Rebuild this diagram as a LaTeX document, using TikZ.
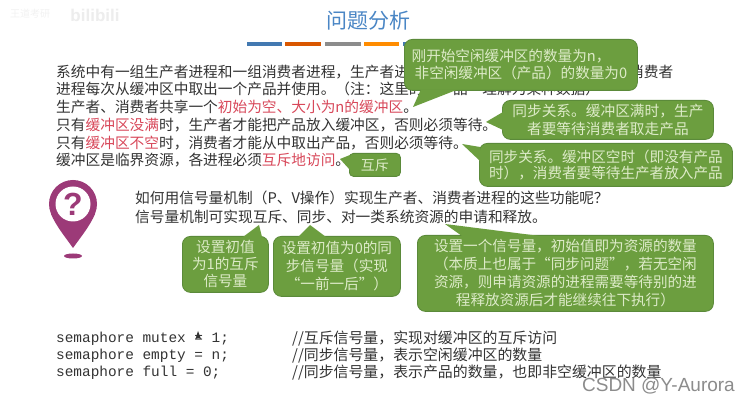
\documentclass[tikz,border=0pt]{standalone}
\usepackage{fontspec}
\setmainfont{Noto Sans CJK SC}
\setmonofont{Liberation Mono}
\newfontfamily\latinsans{Liberation Sans}
\definecolor{bodyink}{HTML}{333333}
\definecolor{keyred}{HTML}{D8485A}
\definecolor{titleblue}{HTML}{4A86C5}
\definecolor{calloutgreen}{HTML}{6C9E3F}
\definecolor{calloutedge}{HTML}{5B8A3A}
\definecolor{callouttext}{HTML}{DDEBC8}
\definecolor{pinmagenta}{HTML}{9C3A78}
\newcommand{\hl}[1]{\textcolor{keyred}{#1}}
\tikzset{
  bodyline/.style={anchor=west,inner sep=0pt,text=bodyink,font=\fontsize{14.7pt}{17pt}\selectfont},
  codeline/.style={anchor=west,inner sep=0pt,text=bodyink,font=\fontsize{14.4pt}{17pt}\ttfamily},
  noteline/.style={anchor=west,inner sep=0pt,text=bodyink,font=\fontsize{14.9pt}{17pt}\selectfont},
  calloutbox/.style={draw=calloutedge,line width=0.8pt,fill=calloutgreen,rounded corners=8pt,
    text=callouttext,align=center,inner sep=0pt,anchor=north west},
  callouttail/.style={fill=calloutgreen,draw=none},
  bar/.style={line width=4pt}
}
\begin{document}
\begin{tikzpicture}[x=1pt,y=-1pt]
\useasboundingbox[fill=white] (0,0) rectangle (745,403);

% watermarks
\node[anchor=center,text=black!7,font=\fontsize{17pt}{18pt}\latinsans\bfseries] (bili) at (95,15) {bilibili};
\node[anchor=center,text=black!5,font=\fontsize{10pt}{11pt}\selectfont] (wm) at (30,14) {王道考研};

% title and colour bars
\node[text=titleblue,font=\fontsize{21pt}{24pt}\selectfont,inner sep=0pt] (title) at (368,21) {问题分析};
\draw[bar,color=titleblue!90!black] (247,44.5) -- (282,44.5);
\draw[bar,color=orange!80!red!85!black] (285,44.5) -- (321,44.5);
\draw[bar,color=black!45] (325,44.5) -- (361,44.5);
\draw[bar,color=orange!90!yellow] (364,44.5) -- (399,44.5);
\draw[bar,color=titleblue!90!black] (403,44.5) -- (438,44.5);

% body
\node[bodyline] (l1) at (56,72) {系统中有一组生产者进程和一组消费者进程，生产者进};
\node[bodyline] (l1b) at (629,72) {消费者};
\node[bodyline] (l2) at (56,89) {进程每次从缓冲区中取出一个产品并使用。（注：这里的“产品”理解为某种数据）};
\node[bodyline] (l3) at (56,107) {生产者、消费者共享一个\hl{初始为空、大小为n的缓冲区}。};
\node[bodyline] (l4) at (56,125) {只有\hl{缓冲区没满}时，生产者才能把产品放入缓冲区，否则必须等待。};
\node[bodyline] (l5) at (56,143) {只有\hl{缓冲区不空}时，消费者才能从中取出产品，否则必须等待。};
\node[bodyline] (l6) at (56,160) {缓冲区是临界资源，各进程必须\hl{互斥地访问}。};

% callouts at the top
\node[calloutbox,align=left,minimum width=233pt,minimum height=51pt,font=\fontsize{14.6pt}{17pt}\selectfont] (c1) at (404,39) {\hspace*{-3pt}刚开始空闲缓冲区的数量为n，\\非空闲缓冲区（产品）的数量为0};
\fill[callouttail] (421,89.4) -- (413,107) -- (458,89.4) -- cycle;

\node[calloutbox,minimum width=211pt,minimum height=39pt,font=\fontsize{14.7pt}{18pt}\selectfont] (c2) at (502,100) {同步关系。缓冲区满时，生产\\者要等待消费者取走产品};
\fill[callouttail] (503,112) -- (486,122) -- (503,130) -- cycle;

\node[calloutbox,minimum width=253pt,minimum height=43pt,font=\fontsize{14.6pt}{16.5pt}\selectfont] (c3) at (479,143) {同步关系。缓冲区空时（即没有产品\\时），消费者要等待生产者放入产品};
\fill[callouttail] (480,147) -- (462,144) -- (480,161) -- cycle;

\node[calloutbox,minimum width=51pt,minimum height=23pt,rounded corners=4pt,font=\fontsize{14pt}{16pt}\selectfont] (c4) at (349,153) {互斥};
\fill[callouttail] (350,155) -- (340,159) -- (350,170) -- cycle;

% location pin icon
\fill[pinmagenta] (51,214) .. controls (56,226) and (66,238) .. (73,248) .. controls (80,238) and (90,226) .. (95,214) -- cycle;
\fill[pinmagenta] (73,204) circle[radius=24];
\fill[white] (73,204) circle[radius=17.5];
\node[text=pinmagenta,font=\fontsize{32pt}{34pt}\latinsans\bfseries,inner sep=0pt] (qmark) at (73,204) {?};
\fill[pinmagenta] (73,256) ellipse[x radius=9,y radius=2.5];

% question
\node[bodyline] (q1) at (135,198) {如何用信号量机制（P、V操作）实现生产者、消费者进程的这些功能呢？};
\node[bodyline] (q2) at (135,217) {信号量机制可实现互斥、同步、对一类系统资源的申请和释放。};

% callouts in the middle
\node[calloutbox,minimum width=86pt,minimum height=56pt,font=\fontsize{14.6pt}{17pt}\selectfont] (c5) at (182,236) {设置初值\\为1的互斥\\信号量};
\fill[callouttail] (243,237) -- (259,225) -- (262,237) -- cycle;

\node[calloutbox,minimum width=127pt,minimum height=60pt,font=\fontsize{14.6pt}{18pt}\selectfont] (c6) at (273,236) {设置初值为0的同\\步信号量（实现\\“一前一后”）};
\fill[callouttail] (298,237) -- (310,225) -- (326,237) -- cycle;

\node[calloutbox,minimum width=296pt,minimum height=76pt,font=\fontsize{14.6pt}{18pt}\selectfont] (c7) at (417,235) {设置一个信号量，初始值即为资源的数量\\（本质上也属于“同步问题”，若无空闲\\资源，则申请资源的进程需要等待别的进\\程释放资源后才能继续往下执行）};
\fill[callouttail] (462,236) -- (445,224) -- (540,236) -- cycle;

% code
\node[codeline] (s1) at (56,339) {semaphore mutex = 1;};
\node[codeline] (s2) at (56,356) {semaphore empty = n;};
\node[codeline] (s3) at (56,373) {semaphore full = 0;};
\node[noteline] (n1) at (292,339) {//互斥信号量，实现对缓冲区的互斥访问};
\node[noteline] (n2) at (292,356) {//同步信号量，表示空闲缓冲区的数量};
\node[noteline] (n3) at (292,373) {//同步信号量，表示产品的数量，也即非空缓冲区的数量};

% mouse cursor
\fill[black!80] (198,331) -- (201,339) -- (198.5,338) -- (195.5,339) -- cycle;

\node[anchor=east,text=black!45,font=\fontsize{19pt}{20pt}\latinsans,inner sep=0pt] (csdn) at (735,386) {CSDN @Y-Aurora};
\end{tikzpicture}
\end{document}
